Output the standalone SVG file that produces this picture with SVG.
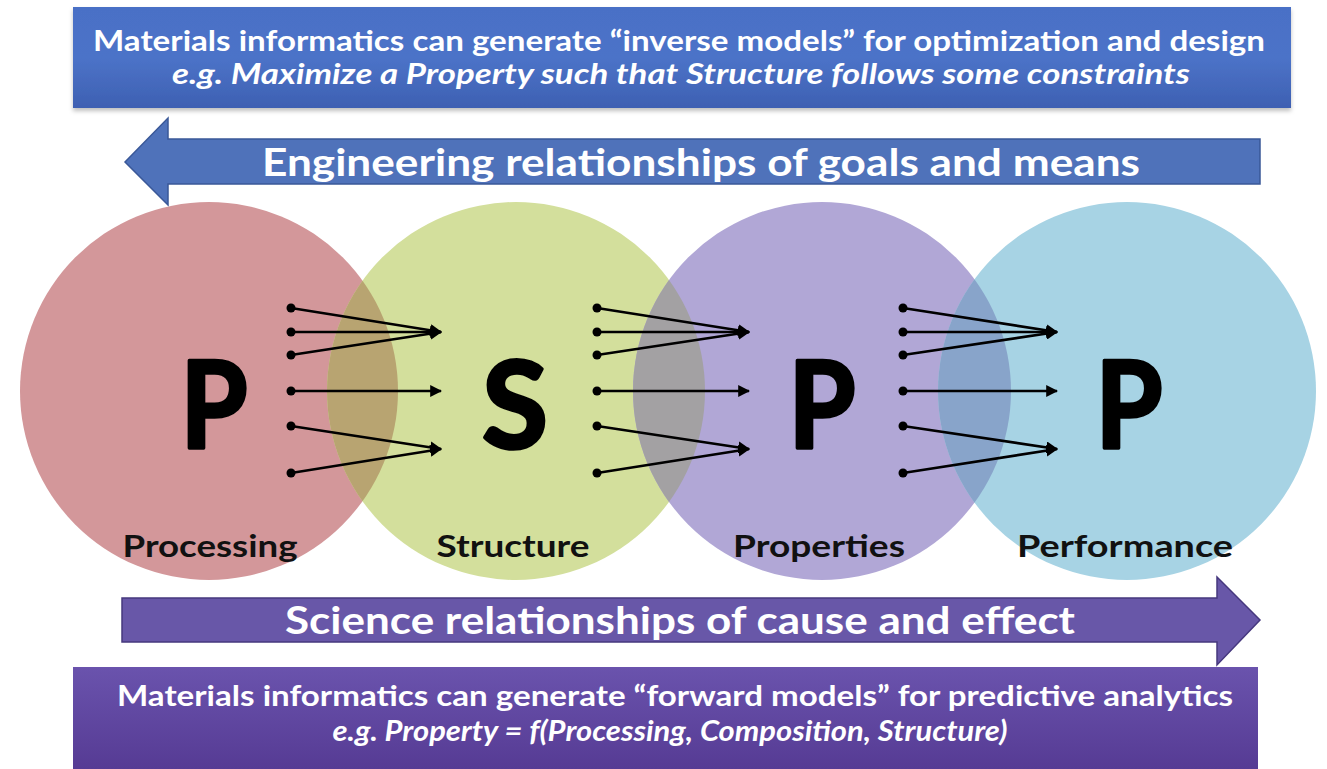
<svg xmlns="http://www.w3.org/2000/svg" width="1327" height="769" viewBox="0 0 1327 769">
<defs>
<style>
.wt{fill:#ffffff;font-family:Lato,"Open Sans",sans-serif;font-weight:bold;}
.it{font-style:italic;}
.big{fill:#000;stroke:#000;stroke-width:3.5;stroke-linejoin:round;font-family:Lato,"Open Sans",sans-serif;font-weight:bold;font-size:121px;text-anchor:middle;}
.lbl{fill:#111;font-family:Lato,"Open Sans",sans-serif;font-weight:bold;font-size:30px;}
.ln{stroke:#000;stroke-width:2.6;fill:none;}
.dot{fill:#000;}
</style>
<linearGradient id="gTop" x1="0" y1="0" x2="0" y2="1">
<stop offset="0" stop-color="#4a70c6"/>
<stop offset="0.5" stop-color="#4c73c8"/>
<stop offset="1" stop-color="#3e60b2"/>
</linearGradient>
<linearGradient id="gBot" x1="0" y1="0" x2="0" y2="1">
<stop offset="0" stop-color="#6a53ad"/>
<stop offset="1" stop-color="#563b94"/>
</linearGradient>
<clipPath id="cRed"><circle cx="209" cy="391" r="189"/></clipPath>
<clipPath id="cGreen"><circle cx="516" cy="391" r="189"/></clipPath>
<clipPath id="cPurple"><circle cx="822" cy="391" r="189"/></clipPath>
<marker id="ah" viewBox="0 0 10 10" refX="9" refY="5" markerWidth="12" markerHeight="12" markerUnits="userSpaceOnUse" orient="auto">
<path d="M0,0 L10,5 L0,10 z" fill="#000"/>
</marker>
<filter id="sh" x="-5%" y="-10%" width="110%" height="130%">
<feDropShadow dx="0" dy="3" stdDeviation="2" flood-color="#000" flood-opacity="0.25"/>
</filter>
</defs>
<rect width="1327" height="769" fill="#ffffff"/>

<g id="inverse-box">
<rect x="73" y="7" width="1218" height="101" fill="url(#gTop)" filter="url(#sh)"/>
<text class="wt" x="679" y="51" font-size="28" text-anchor="middle" textLength="1172" lengthAdjust="spacingAndGlyphs">Materials informatics can generate “inverse models” for optimization and design</text>
<text class="wt it" x="681" y="84" font-size="28" text-anchor="middle" textLength="1018" lengthAdjust="spacingAndGlyphs">e.g. Maximize a Property such that Structure follows some constraints</text>
</g>

<g id="engineering-arrow">
<polygon points="125,162 168,118 168,139 1260,139 1260,184 168,184 168,205" fill="#4f72ba" stroke="#3a5898" stroke-width="1.5"/>
<text class="wt" x="701" y="176" font-size="38" text-anchor="middle" textLength="878" lengthAdjust="spacingAndGlyphs">Engineering relationships of goals and means</text>
</g>

<g id="processing">
<circle cx="209" cy="391" r="189" fill="#d3979a"/>
</g>
<g id="structure">
<circle cx="516" cy="391" r="189" fill="#d3df9c"/>
<circle cx="516" cy="391" r="189" fill="#b8a471" clip-path="url(#cRed)"/>
</g>
<g id="properties">
<circle cx="822" cy="391" r="189" fill="#b1a7d6"/>
<circle cx="822" cy="391" r="189" fill="#a3a1a3" clip-path="url(#cGreen)"/>
</g>
<g id="performance">
<circle cx="1127" cy="391" r="189" fill="#a7d3e4"/>
<circle cx="1127" cy="391" r="189" fill="#88a4ca" clip-path="url(#cPurple)"/>
</g>

<g id="labels">
<text class="big" x="214" y="448" textLength="67" lengthAdjust="spacingAndGlyphs">P</text>
<text class="big" x="515" y="448" textLength="66" lengthAdjust="spacingAndGlyphs">S</text>
<text class="big" x="822" y="448" textLength="67" lengthAdjust="spacingAndGlyphs">P</text>
<text class="big" x="1129" y="448" textLength="67" lengthAdjust="spacingAndGlyphs">P</text>
<text class="lbl" x="210" y="557" text-anchor="middle" textLength="175" lengthAdjust="spacingAndGlyphs">Processing</text>
<text class="lbl" x="513" y="557" text-anchor="middle" textLength="153" lengthAdjust="spacingAndGlyphs">Structure</text>
<text class="lbl" x="819" y="557" text-anchor="middle" textLength="172" lengthAdjust="spacingAndGlyphs">Properties</text>
<text class="lbl" x="1125" y="557" text-anchor="middle" textLength="216" lengthAdjust="spacingAndGlyphs">Performance</text>
</g>

<g id="connectors">
<g id="links-1">
<line class="ln" x1="291" y1="308" x2="441" y2="332" marker-end="url(#ah)"/>
<line class="ln" x1="291" y1="332" x2="441" y2="332" marker-end="url(#ah)"/>
<line class="ln" x1="291" y1="355" x2="441" y2="332" marker-end="url(#ah)"/>
<line class="ln" x1="291" y1="391" x2="441" y2="391" marker-end="url(#ah)"/>
<line class="ln" x1="291" y1="426" x2="441" y2="449" marker-end="url(#ah)"/>
<line class="ln" x1="291" y1="473" x2="441" y2="449" marker-end="url(#ah)"/>
<circle class="dot" cx="291" cy="308" r="4.5"/><circle class="dot" cx="291" cy="332" r="4.5"/><circle class="dot" cx="291" cy="355" r="4.5"/>
<circle class="dot" cx="291" cy="391" r="4.5"/><circle class="dot" cx="291" cy="426" r="4.5"/><circle class="dot" cx="291" cy="473" r="4.5"/>
</g>
<g id="links-2">
<line class="ln" x1="597" y1="308" x2="749" y2="332" marker-end="url(#ah)"/>
<line class="ln" x1="597" y1="332" x2="749" y2="332" marker-end="url(#ah)"/>
<line class="ln" x1="597" y1="355" x2="749" y2="332" marker-end="url(#ah)"/>
<line class="ln" x1="597" y1="391" x2="749" y2="391" marker-end="url(#ah)"/>
<line class="ln" x1="597" y1="426" x2="749" y2="449" marker-end="url(#ah)"/>
<line class="ln" x1="597" y1="473" x2="749" y2="449" marker-end="url(#ah)"/>
<circle class="dot" cx="597" cy="308" r="4.5"/><circle class="dot" cx="597" cy="332" r="4.5"/><circle class="dot" cx="597" cy="355" r="4.5"/>
<circle class="dot" cx="597" cy="391" r="4.5"/><circle class="dot" cx="597" cy="426" r="4.5"/><circle class="dot" cx="597" cy="473" r="4.5"/>
</g>
<g id="links-3">
<line class="ln" x1="903" y1="308" x2="1057" y2="332" marker-end="url(#ah)"/>
<line class="ln" x1="903" y1="332" x2="1057" y2="332" marker-end="url(#ah)"/>
<line class="ln" x1="903" y1="355" x2="1057" y2="332" marker-end="url(#ah)"/>
<line class="ln" x1="903" y1="391" x2="1057" y2="391" marker-end="url(#ah)"/>
<line class="ln" x1="903" y1="426" x2="1057" y2="449" marker-end="url(#ah)"/>
<line class="ln" x1="903" y1="473" x2="1057" y2="449" marker-end="url(#ah)"/>
<circle class="dot" cx="903" cy="308" r="4.5"/><circle class="dot" cx="903" cy="332" r="4.5"/><circle class="dot" cx="903" cy="355" r="4.5"/>
<circle class="dot" cx="903" cy="391" r="4.5"/><circle class="dot" cx="903" cy="426" r="4.5"/><circle class="dot" cx="903" cy="473" r="4.5"/>
</g>
</g>

<g id="science-arrow">
<polygon points="122,598 1217,598 1217,577 1260,620 1217,665 1217,642 122,642" fill="#6857a8" stroke="#46387e" stroke-width="1.5"/>
<text class="wt" x="680" y="634" font-size="38" text-anchor="middle" textLength="790" lengthAdjust="spacingAndGlyphs">Science relationships of cause and effect</text>
</g>

<g id="forward-box">
<rect x="73" y="667" width="1185" height="102" fill="url(#gBot)"/>
<text class="wt" x="675" y="706" font-size="28" text-anchor="middle" textLength="1116" lengthAdjust="spacingAndGlyphs">Materials informatics can generate “forward models” for predictive analytics</text>
<text class="wt it" x="670" y="741" font-size="28" text-anchor="middle" textLength="675" lengthAdjust="spacingAndGlyphs">e.g. Property = f(Processing, Composition, Structure)</text>
</g>
</svg>
